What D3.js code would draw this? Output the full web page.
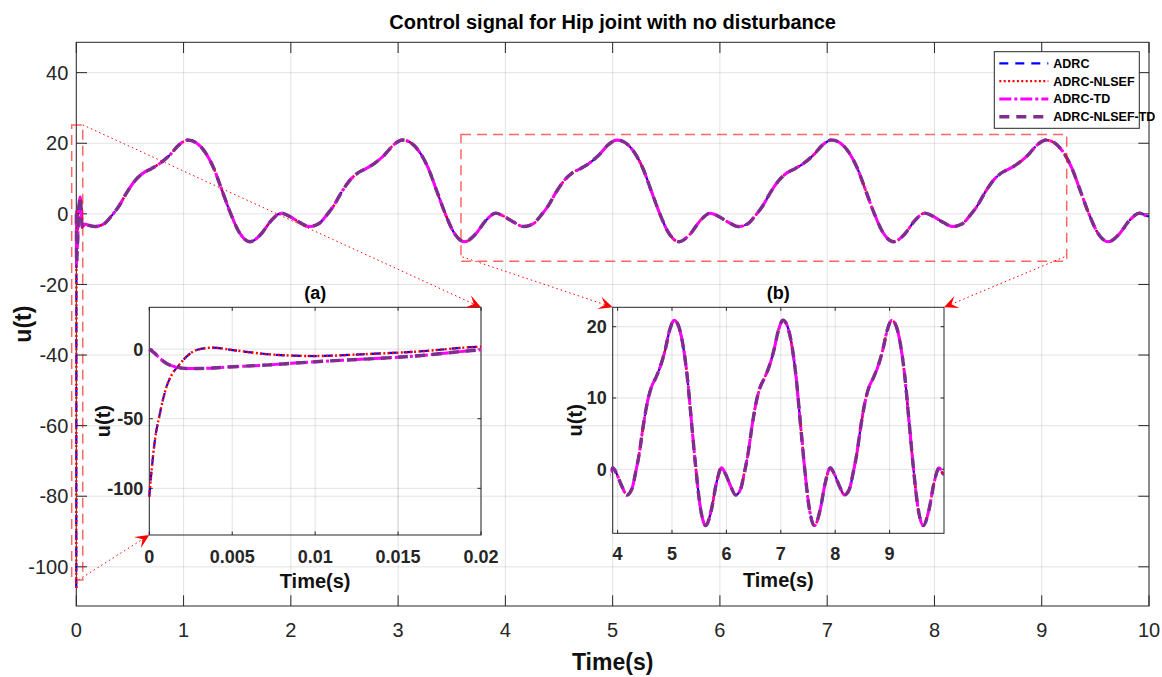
<!DOCTYPE html>
<html><head><meta charset="utf-8">
<script src="https://cdn.jsdelivr.net/npm/d3@7"></script>
<style>
body{margin:0;background:#fff}
text{font-family:"Liberation Sans Narrow","Arial Narrow","Liberation Sans",Arial,sans-serif}
</style>
</head><body>
<svg id="c" width="1162" height="677"></svg>
<script>
// ---------------- DATA ----------------
const seriesNames  = ["ADRC", "ADRC-NLSEF", "ADRC-TD", "ADRC-NLSEF-TD"];
const seriesColors = ["#0000ff", "#ff0000", "#ff00ff", "#7e2f8e"];

// start-up transient (0 .. 0.02 s) of ADRC / ADRC-NLSEF
const initTimeA = [0, 0.00014, 0.00034, 0.00064, 0.00104, 0.00134, 0.00174, 0.00224, 0.00284, 0.00384, 0.00504, 0.00704, 0.01004, 0.01304, 0.01604, 0.02];
const initAdrc  = [-106, -86.8, -65.3, -46.2, -27.0, -18.7, -12.2, -5.5, -0.7, 1.0, -0.7, -3.6, -5.0, -3.6, -1.9, 1.7];
// start-up transient (0 .. 0.02 s) of ADRC-TD / ADRC-NLSEF-TD
const initTimeB = [0, 0.00034, 0.00064, 0.00104, 0.00154, 0.00224, 0.003, 0.005, 0.007, 0.01, 0.013, 0.016, 0.02];
const initTd    = [0, -3.1, -6.7, -10.3, -12.7, -13.9, -13.9, -12.7, -11.5, -9.1, -7.2, -5.0, -0.5];

// common response after the transient (all four controllers overlap)
const time = [
  0.028, 0.037, 0.045, 0.056, 0.08, 0.11,
  0.17, 0.26, 0.33, 0.40, 0.47, 0.55, 0.62, 0.70, 0.78, 0.87, 0.96, 1.04, 1.12, 1.20, 1.28, 1.36, 1.44, 1.52, 1.62, 1.72, 1.82, 1.91, 1.98,
  2.08, 2.17, 2.26, 2.33, 2.40, 2.47, 2.55, 2.62, 2.70, 2.78, 2.87, 2.96, 3.04, 3.12, 3.20, 3.28, 3.36, 3.44, 3.52, 3.62, 3.72, 3.82, 3.91, 3.98,
  4.08, 4.17, 4.26, 4.33, 4.40, 4.47, 4.55, 4.62, 4.70, 4.78, 4.87, 4.96, 5.04, 5.12, 5.20, 5.28, 5.36, 5.44, 5.52, 5.62, 5.72, 5.82, 5.91, 5.98,
  6.08, 6.17, 6.26, 6.33, 6.40, 6.47, 6.55, 6.62, 6.70, 6.78, 6.87, 6.96, 7.04, 7.12, 7.20, 7.28, 7.36, 7.44, 7.52, 7.62, 7.72, 7.82, 7.91, 7.98,
  8.08, 8.17, 8.26, 8.33, 8.40, 8.47, 8.55, 8.62, 8.70, 8.78, 8.87, 8.96, 9.04, 9.12, 9.20, 9.28, 9.36, 9.44, 9.52, 9.62, 9.72, 9.82, 9.91, 9.98,
  10.0
];
const signal = [
  3.0, 4.8, 1.5, -3.8, -2.9, -3.2,
  -3.6, -2.8, -0.5, 2.3, 6.0, 9.5, 11.5, 12.8, 14.3, 16.6, 19.6, 20.9, 20.1, 17.5, 13.0, 6.5, 0.0, -5.3, -7.9, -5.8, -1.8, 0.2, -0.6,
  -2.4, -3.6, -2.8, -0.5, 2.3, 6.0, 9.5, 11.5, 12.8, 14.3, 16.6, 19.6, 20.9, 20.1, 17.5, 13.0, 6.5, 0.0, -5.3, -7.9, -5.8, -1.8, 0.2, -0.6,
  -2.4, -3.6, -2.8, -0.5, 2.3, 6.0, 9.5, 11.5, 12.8, 14.3, 16.6, 19.6, 20.9, 20.1, 17.5, 13.0, 6.5, 0.0, -5.3, -7.9, -5.8, -1.8, 0.2, -0.6,
  -2.4, -3.6, -2.8, -0.5, 2.3, 6.0, 9.5, 11.5, 12.8, 14.3, 16.6, 19.6, 20.9, 20.1, 17.5, 13.0, 6.5, 0.0, -5.3, -7.9, -5.8, -1.8, 0.2, -0.6,
  -2.4, -3.6, -2.8, -0.5, 2.3, 6.0, 9.5, 11.5, 12.8, 14.3, 16.6, 19.6, 20.9, 20.1, 17.5, 13.0, 6.5, 0.0, -5.3, -7.9, -5.8, -1.8, 0.2, -0.6,
  -0.7
];

const xTicksMain = [0, 1, 2, 3, 4, 5, 6, 7, 8, 9, 10];
const yTicksMain = [-100, -80, -60, -40, -20, 0, 20, 40];
const xTicksA = [0, 0.005, 0.01, 0.015, 0.02];
const yTicksA = [-100, -50, 0];
const xTicksB = [4, 5, 6, 7, 8, 9];
const yTicksB = [0, 10, 20];

// ---------------- BUILD SERIES ----------------
const common = time.map((t, i) => ({t, u: signal[i]}));
const initA = initTimeA.map((t, i) => ({t, u: initAdrc[i]}));
const initB = initTimeB.map((t, i) => ({t, u: initTd[i]}));
const styles = [
  {w: 2.2, dash: "9,7"},
  {w: 2.4, dash: "2,2.4"},
  {w: 3.0, dash: "12,3,3,3"},
  {w: 3.4, dash: "10,7"}
];
const series = seriesNames.map((name, i) => ({
  name, color: seriesColors[i], ...styles[i],
  data: (i < 2 ? initA : initB).concat(common)
}));

// ---------------- DRAW ----------------
const svg = d3.select("#c");
const defs = svg.append("defs");
const FRAME = "#262626";
const GRID = "rgba(38,38,38,0.13)";

function panel(cfg) {
  const {id, xs, ys, xticks, yticks, tickLen, fmtX, fmtY, tickFont, tickWeight} = cfg;
  const [x0, x1] = xs.range(), [y0, y1] = ys.range(); // y0 bottom, y1 top
  const g = svg.append("g");
  const pad = 2;
  defs.append("clipPath").attr("id", id).append("rect")
    .attr("x", x0 - pad).attr("y", y1 - pad).attr("width", x1 - x0 + pad).attr("height", y0 - y1 + 2 * pad);
  // grid
  g.selectAll(null).data(xticks).join("line")
    .attr("x1", d => xs(d)).attr("x2", d => xs(d)).attr("y1", y0).attr("y2", y1)
    .attr("stroke", GRID).attr("stroke-width", 1);
  g.selectAll(null).data(yticks).join("line")
    .attr("y1", d => ys(d)).attr("y2", d => ys(d)).attr("x1", x0).attr("x2", x1)
    .attr("stroke", GRID).attr("stroke-width", 1);
  // frame
  g.append("rect").attr("x", x0).attr("y", y1).attr("width", x1 - x0).attr("height", y0 - y1)
    .attr("fill", "none").attr("stroke", FRAME).attr("stroke-width", 1);
  // ticks (inside, all four sides)
  const tk = g.append("g").attr("stroke", FRAME).attr("stroke-width", 1);
  xticks.forEach(d => {
    tk.append("line").attr("x1", xs(d)).attr("x2", xs(d)).attr("y1", y0).attr("y2", y0 - tickLen);
    tk.append("line").attr("x1", xs(d)).attr("x2", xs(d)).attr("y1", y1).attr("y2", y1 + tickLen);
  });
  yticks.forEach(d => {
    tk.append("line").attr("y1", ys(d)).attr("y2", ys(d)).attr("x1", x0).attr("x2", x0 + tickLen);
    tk.append("line").attr("y1", ys(d)).attr("y2", ys(d)).attr("x1", x1).attr("x2", x1 - tickLen);
  });
  // lines (drawn above the axes layer)
  const line = d3.line().x(d => xs(d.t)).y(d => ys(d.u)).curve(d3.curveMonotoneX);
  const lg = g.append("g").attr("clip-path", `url(#${id})`);
  series.forEach(s => {
    lg.append("path").attr("d", line(s.data)).attr("fill", "none")
      .attr("stroke", s.color).attr("stroke-width", s.w)
      .attr("stroke-dasharray", s.dash).attr("stroke-linejoin", "round");
  });
  // tick labels
  g.selectAll(null).data(xticks).join("text")
    .attr("x", d => xs(d)).attr("y", y0 + cfg.xLabOff).attr("text-anchor", "middle")
    .attr("font-size", tickFont).attr("font-weight", tickWeight).attr("fill", FRAME)
    .text(fmtX);
  g.selectAll(null).data(yticks).join("text")
    .attr("x", x0 - cfg.yLabOff).attr("y", d => ys(d)).attr("dy", "0.36em").attr("text-anchor", "end")
    .attr("font-size", tickFont).attr("font-weight", tickWeight).attr("fill", FRAME)
    .text(fmtY);
  // axis labels
  const cx = (x0 + x1) / 2, cy = (y0 + y1) / 2;
  g.append("text").attr("x", cx).attr("y", cfg.xTitleY).attr("text-anchor", "middle")
    .attr("font-size", cfg.labFont).attr("font-weight", "bold").attr("fill", "#111").text("Time(s)");
  g.append("text").attr("transform", `translate(${cfg.yTitleX},${cy}) rotate(-90)`)
    .attr("text-anchor", "middle").attr("font-size", cfg.labFont).attr("font-weight", "bold")
    .attr("fill", "#111").text("u(t)");
  if (cfg.title) {
    g.append("text").attr("x", cx).attr("y", cfg.titleY).attr("text-anchor", "middle")
      .attr("font-size", cfg.titleFont).attr("font-weight", "bold").attr("fill", "#000").text(cfg.title);
  }
  return g;
}

// main axes
const x = d3.scaleLinear().domain([0, 10]).range([76.3, 1149]);
const y = d3.scaleLinear().domain([-111.1, 48.6]).range([606, 42.3]);
panel({id: "cm", xs: x, ys: y, xticks: xTicksMain, yticks: yTicksMain, tickLen: 10.7,
  fmtX: d => d, fmtY: d => d, tickFont: 20, tickWeight: "normal", xLabOff: 31, yLabOff: 8,
  xTitleY: 670, yTitleX: 31, labFont: 23, title: "Control signal for Hip joint with no disturbance",
  titleY: 29, titleFont: 20});

// inset (a)
const xa = d3.scaleLinear().domain([0, 0.02]).range([149.3, 481]);
const ya = d3.scaleLinear().domain([-133.5, 30]).range([535, 307.3]);
panel({id: "ca", xs: xa, ys: ya, xticks: xTicksA, yticks: yTicksA, tickLen: 3.5,
  fmtX: d => d, fmtY: d => d, tickFont: 18, tickWeight: "bold", xLabOff: 28, yLabOff: 6,
  xTitleY: 588, yTitleX: 110, labFont: 20, title: "(a)", titleY: 299, titleFont: 18});

// inset (b)
const xb = d3.scaleLinear().domain([3.91, 10]).range([612.7, 944]);
const yb = d3.scaleLinear().domain([-8.98, 22.72]).range([533.3, 307.3]);
panel({id: "cb", xs: xb, ys: yb, xticks: xTicksB, yticks: yTicksB, tickLen: 3.5,
  fmtX: d => d, fmtY: d => d, tickFont: 18, tickWeight: "bold", xLabOff: 27, yLabOff: 6,
  xTitleY: 587, yTitleX: 582, labFont: 20, title: "(b)", titleY: 299, titleFont: 18});

// zoom rectangles
const ann = svg.append("g");
function zoomRect(t0, t1, u0, u1) {
  ann.append("rect").attr("x", x(t0)).attr("y", y(u1)).attr("width", x(t1) - x(t0)).attr("height", y(u0) - y(u1))
    .attr("fill", "none").attr("stroke", "rgba(255,0,0,0.6)").attr("stroke-width", 1.5).attr("stroke-dasharray", "10,6");
}
zoomRect(-0.043, 0.06, -103.7, 25.2);
zoomRect(3.586, 9.233, -13.4, 22.5);

function arrow(p0, p1) {
  const dx = p1[0] - p0[0], dy = p1[1] - p0[1], L = Math.hypot(dx, dy);
  const ux = dx / L, uy = dy / L, px = -uy, py = ux;
  const hl = 14, hw = 6.5, notch = 8;
  const bx = p1[0] - ux * hl, by = p1[1] - uy * hl;
  ann.append("line").attr("x1", p0[0]).attr("y1", p0[1]).attr("x2", p1[0] - ux * notch).attr("y2", p1[1] - uy * notch)
    .attr("stroke", "#ff0000").attr("stroke-width", 1).attr("stroke-dasharray", "1.5,3");
  ann.append("path").attr("fill", "#ff0000")
    .attr("d", `M${p1[0]},${p1[1]} L${bx + px * hw},${by + py * hw} L${p1[0] - ux * notch},${p1[1] - uy * notch} L${bx - px * hw},${by - py * hw} Z`);
}
arrow([x(0.06), y(25.2)], [xa.range()[1], ya.range()[1]]);
arrow([x(0.02), y(-103.7)], [xa.range()[0], ya.range()[0]]);
arrow([x(3.6), y(-12.2)], [xb.range()[0], yb.range()[1]]);
arrow([x(9.21), y(-12.2)], [xb.range()[1], yb.range()[1]]);

// legend
const lg = svg.append("g");
const lx = 994.3, ly = 51.7, lw = 145, lh = 76.6;
lg.append("rect").attr("x", lx).attr("y", ly).attr("width", lw).attr("height", lh)
  .attr("fill", "#fff").attr("stroke", FRAME).attr("stroke-width", 1);
series.forEach((s, i) => {
  const yy = ly + 11.6 + i * 17.8;
  lg.append("line").attr("x1", lx + 5).attr("x2", lx + 54).attr("y1", yy).attr("y2", yy)
    .attr("stroke", s.color).attr("stroke-width", s.w).attr("stroke-dasharray", s.dash);
  lg.append("text").attr("x", lx + 59).attr("y", yy).attr("dy", "0.36em")
    .attr("font-size", 12.5).attr("font-weight", "bold").attr("fill", "#000").text(s.name);
});
</script>
</body></html>
